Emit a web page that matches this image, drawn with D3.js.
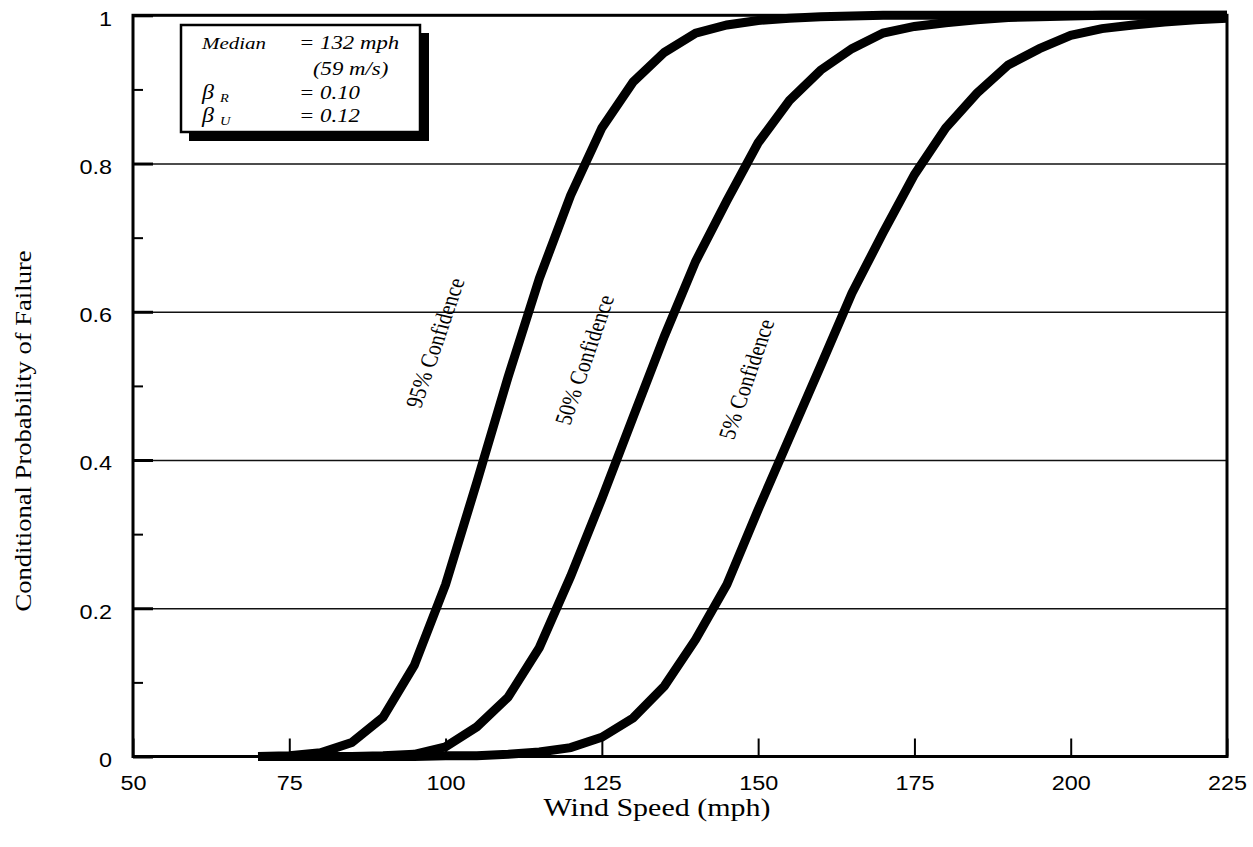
<!DOCTYPE html>
<html>
<head>
<meta charset="utf-8">
<script src="https://cdn.jsdelivr.net/npm/d3@7"></script>
<style>
  body { margin: 0; background: #fff; }
  text { fill: #000; }
</style>
</head>
<body>
<script>
// wind speed steps (mph) and failure probabilities
const windSpeeds = [70, 75, 80, 85, 90, 95, 100, 105, 110, 115, 120, 125, 130, 135, 140, 145,
  150, 155, 160, 165, 170, 175, 180, 185, 190, 195, 200, 205, 210, 215, 220, 225]
const conf95 = [0, 0.001, 0.005, 0.019, 0.053, 0.123, 0.232, 0.37, 0.512, 0.645, 0.757, 0.848,
  0.91, 0.95, 0.976, 0.987, 0.993, 0.996, 0.998, 0.999, 1, 1, 1, 1, 1, 1, 1, 1, 1, 1, 1, 1]
const conf50 = [0, 0, 0, 0, 0.001, 0.003, 0.013, 0.04, 0.08, 0.147, 0.243, 0.348, 0.458, 0.567,
  0.668, 0.75, 0.828, 0.885, 0.926, 0.955, 0.976, 0.985, 0.99, 0.994, 0.997, 0.998, 0.999, 1, 1, 1, 1, 1]
const conf5 = [0, 0, 0, 0, 0, 0, 0.001, 0.001, 0.003, 0.006, 0.012, 0.026, 0.052, 0.095, 0.158,
  0.232, 0.333, 0.43, 0.527, 0.625, 0.707, 0.785, 0.848, 0.895, 0.933, 0.955, 0.973, 0.982, 0.987,
  0.991, 0.994, 0.996]
const seriesNames = ['95% Confidence', '50% Confidence', '5% Confidence']
const xTicks = [50, 75, 100, 125, 150, 175, 200, 225]
const yTicks = [0, 0.2, 0.4, 0.6, 0.8, 1]
const yMinor = [0.1, 0.3, 0.5, 0.7, 0.9]
const legendNames = ['Median', '', 'β', 'β']
const legendSubs = ['', '', 'R', 'U']
const legendValues = ['= 132 mph', '(59 m/s)', '= 0.10', '= 0.12']

const width = 1253
const height = 847
const stretch = 'scale(1.2,1)'   // the original text is widened sideways

const x = d3.scaleLinear().domain([50, 225]).range([133, 1227])
const y = d3.scaleLinear().domain([0, 1]).range([756.5, 15.3])

const svg = d3.select('body').append('svg')
  .attr('width', width)
  .attr('height', height)
  .style('font-family', '"Liberation Sans", Arial, sans-serif')

// gridlines
svg.append('g')
  .attr('transform', `translate(${x(50)},0)`)
  .call(d3.axisLeft(y).tickValues(yTicks.slice(1, -1)).tickSize(-(x(225) - x(50))).tickFormat(''))
  .call(g => g.select('.domain').remove())
  .selectAll('line')
    .attr('stroke', '#111')
    .attr('stroke-width', 1.5)

// minor y ticks
svg.append('g')
  .attr('transform', `translate(${x(50)},0)`)
  .call(d3.axisLeft(y).tickValues(yMinor).tickSize(-10).tickFormat(''))
  .call(g => g.select('.domain').remove())
  .selectAll('line')
    .attr('stroke', '#000')
    .attr('stroke-width', 2)

// major y ticks + labels
const yAxis = svg.append('g')
  .attr('transform', `translate(${x(50)},0)`)
  .call(d3.axisLeft(y).tickValues(yTicks).tickSize(-20).tickFormat(d => d))
  .call(g => g.select('.domain').remove())
yAxis.selectAll('line')
  .attr('stroke', '#000')
  .attr('stroke-width', 3)
yAxis.selectAll('text')
  .attr('x', null)
  .attr('dy', '0.5em')
  .attr('transform', `translate(-21,0) ${stretch}`)
  .style('font-size', '19.5px')
  .style('font-family', '"Liberation Sans", Arial, sans-serif')
  .attr('fill', '#000')

// x ticks + labels
const xAxis = svg.append('g')
  .attr('transform', `translate(0,${y(0)})`)
  .call(d3.axisBottom(x).tickValues(xTicks).tickSize(-18).tickPadding(20).tickFormat(d => d))
  .call(g => g.select('.domain').remove())
xAxis.selectAll('line')
  .attr('stroke', '#000')
  .attr('stroke-width', 2)
xAxis.selectAll('text')
  .attr('transform', stretch)
  .style('font-size', '19.5px')
  .style('font-family', '"Liberation Sans", Arial, sans-serif')
  .attr('fill', '#000')

// frame
svg.append('rect')
  .attr('x', x(50))
  .attr('y', y(1))
  .attr('width', x(225) - x(50))
  .attr('height', y(0) - y(1))
  .attr('fill', 'none')
  .attr('stroke', '#000')
  .attr('stroke-width', 3)

// curves
const line = d3.line()
  .x((d, i) => x(windSpeeds[i]))
  .y(d => y(d))

svg.selectAll('.curve')
  .data([conf95, conf50, conf5])
  .enter().append('path')
    .attr('class', 'curve')
    .attr('d', line)
    .attr('fill', 'none')
    .attr('stroke', '#000')
    .attr('stroke-width', 9)
    .attr('stroke-linecap', 'butt')

// curve labels
const labelSpots = [[98.3, 0.558], [122.2, 0.535], [148.1, 0.509]]
svg.selectAll('.curve-label')
  .data(seriesNames)
  .enter().append('text')
    .attr('class', 'curve-label')
    .attr('transform', (d, i) => `translate(${x(labelSpots[i][0])},${y(labelSpots[i][1])}) ${stretch} rotate(-74)`)
    .attr('text-anchor', 'middle')
    .attr('dominant-baseline', 'central')
    .style('font-family', '"Liberation Serif", "Times New Roman", serif')
    .style('font-size', '20px')
    .text(d => d)

// legend box with drop shadow
const legend = svg.append('g')
legend.append('rect')
  .attr('x', 189).attr('y', 33)
  .attr('width', 240).attr('height', 108)
  .attr('fill', '#000')
legend.append('rect')
  .attr('x', 181).attr('y', 25)
  .attr('width', 239).attr('height', 107)
  .attr('fill', '#fff')
  .attr('stroke', '#000')
  .attr('stroke-width', 2.5)

const rowBase = [49, 75, 99, 122]
const legendFont = '"Liberation Serif", "Times New Roman", serif'
legendNames.forEach((name, i) => {
  legend.append('text')
    .attr('transform', `translate(202,${rowBase[i]}) ${stretch}`)
    .style('font-family', legendFont)
    .style('font-style', 'italic')
    .style('font-size', i > 1 ? '20px' : '17.5px')
    .text(name)
  if (legendSubs[i]) {
    legend.append('text')
      .attr('transform', `translate(220,${rowBase[i] + 3}) ${stretch}`)
      .style('font-family', legendFont)
      .style('font-style', 'italic')
      .style('font-size', '12px')
      .text(legendSubs[i])
  }
  legend.append('text')
    .attr('transform', `translate(${i === 1 ? 313 : 299},${rowBase[i]}) ${stretch}`)
    .style('font-family', legendFont)
    .style('font-style', 'italic')
    .style('font-size', '19px')
    .text(legendValues[i])
})

// axis titles
svg.append('text')
  .attr('transform', `translate(657,816) ${stretch}`)
  .attr('text-anchor', 'middle')
  .style('font-family', legendFont)
  .style('font-size', '25px')
  .text('Wind Speed (mph)')

svg.append('text')
  .attr('transform', 'translate(31,431) scale(1.15,1.33) rotate(-90)')
  .attr('text-anchor', 'middle')
  .style('font-family', legendFont)
  .style('font-size', '20px')
  .text('Conditional Probability of Failure')
</script>
</body>
</html>
